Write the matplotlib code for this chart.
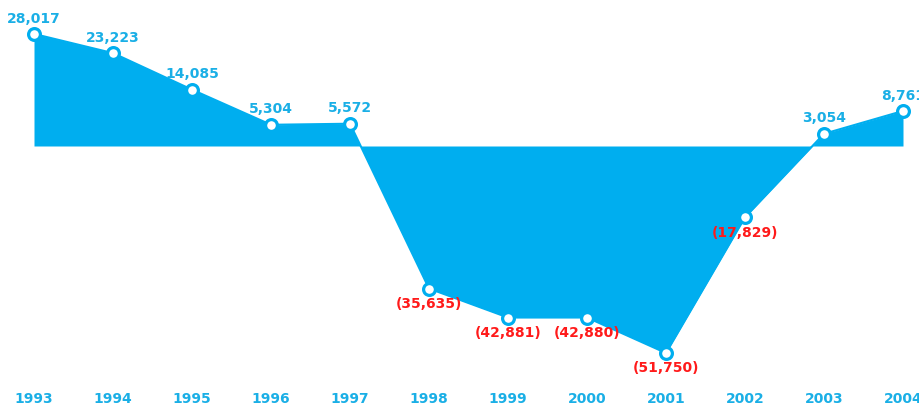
import matplotlib
matplotlib.use("Agg")
import matplotlib.pyplot as plt
import numpy as np

years = [1993, 1994, 1995, 1996, 1997, 1998, 1999, 2000, 2001, 2002, 2003, 2004]
values = [28017, 23223, 14085, 5304, 5572, -35635, -42881, -42880, -51750, -17829, 3054, 8761]

BLUE = "#00AEEF"
TICK_BLUE = "#1AAFE6"
RED = "#FF1A1A"

fig = plt.figure(figsize=(9.19, 4.07), dpi=100)
ax = fig.add_axes([0, 0, 1, 1])
ax.set_xlim(1993 - 34 / 79, 1993 + (919 - 34) / 79)
ax.set_ylim(-261 * 250, 146 * 250)
ax.axis("off")

x = np.array(years, dtype=float)
y = np.array(values, dtype=float)
ax.fill_between(x, y, 0, color=BLUE, linewidth=0, interpolate=True)
ax.plot(x, y, color=BLUE, linewidth=1.5)
ax.plot(x, y, linestyle="none", marker="o", markersize=8.5,
        markerfacecolor="white", markeredgecolor=BLUE, markeredgewidth=2.3, zorder=5)

for xi, vi in zip(years, values):
    if vi >= 0:
        ax.annotate(f"{vi:,}", (xi, vi), xytext=(0, 6), textcoords="offset points",
                    ha="center", va="bottom", color=TICK_BLUE, fontsize=10,
                    fontweight="bold")
    else:
        ax.annotate(f"({-vi:,})", (xi, vi), xytext=(0, -6), textcoords="offset points",
                    ha="center", va="top", color=RED, fontsize=10,
                    fontweight="bold")

trans = ax.get_xaxis_transform()
for xi in years:
    ax.text(xi, 1 / 407, str(xi), transform=trans, ha="center", va="bottom",
            color=TICK_BLUE, fontsize=10, fontweight="bold")

fig.savefig("out.png", dpi=100)
